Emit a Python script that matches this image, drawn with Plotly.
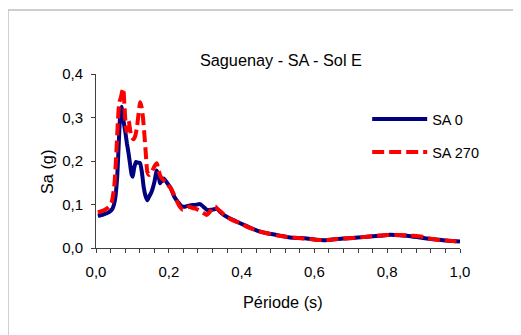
import plotly.graph_objects as go

# Data
periode_sa0 = [0.005,0.02,0.035,0.045,0.052,0.058,0.062,0.066,0.070,0.074,0.080,0.085,0.089,0.094,0.098,0.101,0.105,0.110,0.116,0.121,0.126,0.131,0.136,0.141,0.146,0.153,0.160,0.167,0.172,0.176,0.181,0.186,0.195,0.205,0.215,0.225,0.235,0.245,0.258,0.272,0.286,0.296,0.306,0.318,0.332,0.345,0.359,0.378,0.396,0.42,0.446,0.47,0.496,0.515,0.533,0.556,0.579,0.605,0.629,0.655,0.679,0.705,0.734,0.758,0.780,0.80,0.821,0.838,0.854,0.872,0.890,0.908,0.927,0.945,0.963,0.982,1.0]
sa0 = [0.074,0.077,0.082,0.090,0.110,0.160,0.230,0.300,0.325,0.300,0.270,0.240,0.220,0.190,0.168,0.164,0.185,0.198,0.196,0.195,0.175,0.140,0.120,0.110,0.118,0.130,0.150,0.178,0.165,0.149,0.155,0.160,0.150,0.138,0.118,0.106,0.096,0.095,0.098,0.099,0.101,0.094,0.087,0.088,0.090,0.080,0.072,0.064,0.057,0.048,0.039,0.034,0.030,0.027,0.024,0.023,0.022,0.019,0.018,0.020,0.022,0.023,0.025,0.027,0.028,0.030,0.030,0.029,0.028,0.026,0.024,0.022,0.020,0.019,0.017,0.016,0.015]

periode_sa270 = [0.005,0.02,0.035,0.043,0.050,0.056,0.060,0.064,0.068,0.072,0.075,0.078,0.081,0.084,0.087,0.090,0.094,0.098,0.103,0.108,0.113,0.117,0.121,0.125,0.129,0.133,0.137,0.141,0.146,0.151,0.156,0.162,0.167,0.172,0.177,0.183,0.19,0.197,0.205,0.213,0.222,0.230,0.238,0.246,0.255,0.265,0.275,0.286,0.296,0.304,0.312,0.320,0.328,0.336,0.345,0.359,0.378,0.396,0.42,0.446,0.47,0.496,0.515,0.533,0.556,0.579,0.605,0.629,0.655,0.679,0.705,0.734,0.758,0.780,0.80,0.821,0.838,0.854,0.872,0.885,0.900,0.915,0.930,0.945,0.963,0.982,1.0]
sa270 = [0.082,0.086,0.094,0.105,0.140,0.220,0.290,0.335,0.345,0.360,0.367,0.330,0.290,0.268,0.280,0.292,0.270,0.255,0.250,0.258,0.280,0.310,0.335,0.325,0.300,0.260,0.215,0.175,0.168,0.172,0.180,0.190,0.195,0.178,0.165,0.158,0.152,0.145,0.138,0.125,0.108,0.095,0.088,0.090,0.095,0.092,0.090,0.085,0.080,0.076,0.082,0.093,0.095,0.088,0.082,0.071,0.063,0.057,0.047,0.039,0.034,0.029,0.027,0.024,0.023,0.021,0.019,0.018,0.020,0.022,0.023,0.025,0.027,0.029,0.030,0.030,0.030,0.029,0.028,0.027,0.025,0.022,0.020,0.018,0.017,0.016,0.014]

series_names = ["SA 0", "SA 270"]
x_ticks = [0.0, 0.2, 0.4, 0.6, 0.8, 1.0]
y_ticks = [0.0, 0.1, 0.2, 0.3, 0.4]
chart_title = "Saguenay - SA - Sol E"
x_title = "Période (s)"
y_title = "Sa (g)"

FONT = "Liberation Sans, Arial, sans-serif"

fig = go.Figure()
fig.add_trace(go.Scatter(
    x=periode_sa0, y=sa0, mode="lines", name=series_names[0],
    line=dict(color="#000080", width=4, shape="spline", smoothing=0.5),
    legend="legend",
))
fig.add_trace(go.Scatter(
    x=periode_sa270, y=sa270, mode="lines", name=series_names[1],
    line=dict(color="#FF0000", width=4, dash="12px,5px", shape="spline", smoothing=0.5),
    legend="legend2",
))

legend_common = dict(
    font=dict(family=FONT, size=14.5, color="black"),
    bgcolor="rgba(0,0,0,0)", borderwidth=0,
    itemwidth=55, xanchor="left", yanchor="middle",
)

# The page body has an 8px margin: figure is sized/offset to compensate
fig.update_layout(
    width=513, height=327,
    margin=dict(l=88, r=61, t=66, b=87),
    paper_bgcolor="white", plot_bgcolor="white",
    separators=", ",
    showlegend=True,
    font=dict(family=FONT, size=15, color="black"),
    title=dict(text=chart_title, x=0.508, xref="paper",
               y=1 - 52 / 327, yanchor="middle", xanchor="center",
               font=dict(family=FONT, size=16.3, color="black")),
    legend=dict(x=0.745, y=0.741, **legend_common),
    legend2=dict(x=0.745, y=0.552, **legend_common),
    xaxis=dict(
        range=[0, 1], tickvals=x_ticks, tickformat=".1f",
        showgrid=False, zeroline=False,
        showline=True, linecolor="#404040", linewidth=1,
        ticks="outside", ticklen=4, tickcolor="#404040",
        minor=dict(dtick=0.04, ticks="outside", ticklen=4, tickcolor="#404040", showgrid=False),
        ticklabelstandoff=6,
    ),
    yaxis=dict(
        range=[0, 0.4], tickvals=y_ticks, tickformat=".1f",
        showgrid=False, zeroline=False,
        showline=True, linecolor="#404040", linewidth=1,
        ticks="outside", ticklen=4, tickcolor="#404040",
        ticklabelstandoff=5,
    ),
    annotations=[
        dict(text=x_title, xref="paper", yref="paper", x=0.5124, y=-0.3086,
             xanchor="center", yanchor="middle", showarrow=False,
             font=dict(family=FONT, size=16.3, color="black")),
        dict(text=y_title, xref="paper", yref="paper", x=-0.1365, y=0.4385,
             xanchor="center", yanchor="middle", showarrow=False, textangle=-90,
             font=dict(family=FONT, size=16.3, color="black")),
    ],
    shapes=[dict(
        type="rect", xref="paper", yref="paper", layer="below",
        x0=-0.2418, x1=1.25, y0=-0.7, y1=1.3678,
        line=dict(color="#BFBFBF", width=1.5), fillcolor="rgba(0,0,0,0)",
    )],
)

fig.write_html("out.html")
